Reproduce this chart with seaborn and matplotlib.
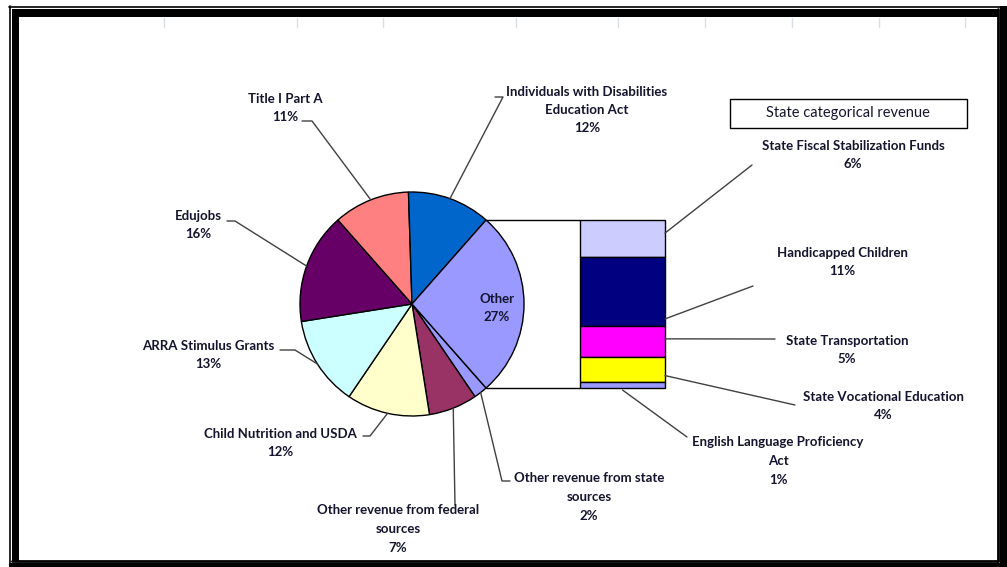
import numpy as np
import seaborn as sns
import matplotlib.pyplot as plt
from matplotlib.patches import Rectangle

# --- Pie: revenue sources (in series order) ---
pie_labels = ["Other revenue from state\nsources", "Other revenue from federal\nsources",
              "Child Nutrition and USDA", "ARRA Stimulus Grants", "Edujobs",
              "Title I Part A", "Individuals with Disabilities\nEducation Act", "Other"]
pie_pct = [2, 7, 12, 13, 16, 11, 12, 27]
pie_colors = ["#9999FF", "#993366", "#FFFFCC", "#CCFFFF", "#660066",
              "#FF8080", "#0066CC", "#9999FF"]

# --- Bar: breakdown of "Other" ---
bar_title = "State categorical revenue"
bar_labels = ["State Fiscal Stabilization Funds", "Handicapped Children",
              "State Transportation", "State Vocational Education",
              "English Language Proficiency\nAct"]
bar_pct = [6, 11, 5, 4, 1]
bar_colors = ["#CCCCFF", "#000080", "#FF00FF", "#FFFF00", "#9999FF"]

sns.set_theme(style="white")
plt.rcParams['font.family'] = ['Lato', 'DejaVu Sans']

W, H = 1007, 567
fig = plt.figure(figsize=(W / 100, H / 100), dpi=100)
ax = fig.add_axes([0, 0, 1, 1])

# pixel-like coordinates, y pointing down
cx, cy, r = 412, 304, 112
half = pie_pct[-1] / 100 * 180  # half-angle of the "Other" slice

wedges, _ = ax.pie(pie_pct, colors=pie_colors, startangle=half, counterclock=True,
                   center=(cx, cy), radius=r, frame=True,
                   wedgeprops=dict(edgecolor='black', linewidth=1))
ax.set_xlim(0, W)
ax.set_ylim(H, 0)
ax.set_aspect('equal')
ax.axis('off')

fs = 9.5
txt = dict(fontsize=fs, fontweight='bold', color='#14142e', ha='center', va='center',
           linespacing=1.65)
lead = dict(color='#404040', lw=1)

# pie labels: text centre and leader elbow points
pie_text_pos = [(589, 497), (398, 529), (280, 443), (208, 355), (198, 225),
                (285, 108), (587, 110)]
pie_elbow = [[(510, 481), (502, 481)], [(455, 505)], [(363, 436), (370, 436)],
             [(280, 350), (295, 350)], [(227, 221), (235, 221)],
             [(302, 121), (312, 121)], [(495, 97), (503, 97)]]
for w, lab, pct, pos, elb in zip(wedges, pie_labels, pie_pct, pie_text_pos, pie_elbow):
    mid = np.deg2rad((w.theta1 + w.theta2) / 2)
    edge = (cx + r * np.cos(mid), cy + r * np.sin(mid))
    pts = elb + [edge]
    ax.plot([p[0] for p in pts], [p[1] for p in pts], **lead)
    ax.text(pos[0], pos[1], f"{lab}\n{pct}%", **txt)
ax.text(497, 308, f"{pie_labels[-1]}\n{pie_pct[-1]}%", **txt)

# stacked bar spanning the "Other" slice
bar_x, bar_w = 622.5, 85
dy = r * np.sin(np.deg2rad(half))
dx = r * np.cos(np.deg2rad(half))
top, bot = cy - dy, cy + dy
scale = (bot - top) / sum(bar_pct)
heights = np.array(bar_pct) * scale
bottoms = top + np.concatenate([[0], np.cumsum(heights)[:-1]])
ax.bar(bar_x, heights, bottom=bottoms, width=bar_w, color=bar_colors,
       edgecolor='black', linewidth=1)

# connectors from pie to bar
for y in (top, bot):
    ax.plot([cx + dx, bar_x - bar_w / 2], [y, y], color='black', lw=1)

# bar labels
bar_text_pos = [(853, 155), (842, 262), (847, 350), (883, 406), (778, 461)]
bar_start = [(752, 165), (753, 286), (775, 339), (795, 405), (687, 437)]
bar_hook = [0.35, 0.9, 0.42, 0.75]
for i, (lab, pct, pos, st) in enumerate(zip(bar_labels, bar_pct, bar_text_pos, bar_start)):
    if i < len(bar_hook):
        end = (bar_x + bar_w / 2, bottoms[i] + heights[i] * bar_hook[i])
    else:
        end = (bar_x, bottoms[i] + heights[i] + 2)
    ax.plot([st[0], end[0]], [st[1], end[1]], **lead)
    ax.text(pos[0], pos[1], f"{lab}\n{pct}%", **txt)

# title box for the bar
ax.add_patch(Rectangle((730, 99), 237, 29, fill=False, edgecolor='black', lw=1))
ax.text(848, 113.5, bar_title, fontsize=10.5, color='#14142e', ha='center', va='center')

# faint gridline stubs at top
for gx in [164, 297, 383, 516, 618, 705, 792, 879, 965]:
    ax.plot([gx, gx], [18, 27], color='#d8dee6', lw=1)

# frame: thin + thick on top/left, thin inner + thick outer on right/bottom
k = dict(color='black', lw=0)
ax.plot([9, 1000], [6.5, 6.5], color='black', lw=1.2)
ax.plot([9.5, 9.5], [6, 563], color='black', lw=1.2)
ax.add_patch(Rectangle((12, 9), 986, 8, **k))
ax.add_patch(Rectangle((12, 9), 7, 552, **k))
ax.plot([997.5, 997.5], [9, 561], color='black', lw=2)
ax.plot([12, 998], [560.5, 560.5], color='black', lw=2)
ax.add_patch(Rectangle((1000, 6), 7, 561, **k))
ax.add_patch(Rectangle((9, 563), 998, 4, **k))

fig.savefig('out.png', dpi=100)
